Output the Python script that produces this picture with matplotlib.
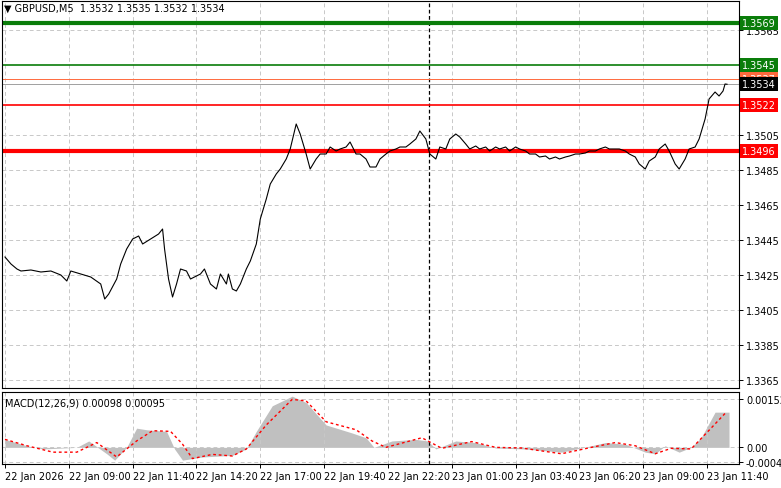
import matplotlib
matplotlib.use("Agg")
import matplotlib.pyplot as plt
import numpy as np

W, H = 781, 489

# price trace: bar index (5-min bars from 22 Jan 06:20) and close
bar_x = [0, 3, 6, 8, 13, 18, 23, 28, 31, 33, 38, 43, 48, 50, 52, 56, 58, 61, 64, 67, 69, 73, 77, 79, 80, 82, 84,
         86, 88, 91, 93, 98, 100, 103, 106, 108, 111, 112, 114, 116, 118, 121, 123, 126, 128, 131, 133, 136, 138, 141,
         143, 146, 148, 151, 153, 156, 158, 161, 163, 166, 168, 171, 173, 176, 178, 181, 183, 186, 188, 191, 193, 196,
         198, 201, 203, 206, 208, 211, 213, 216, 218, 221, 223, 226, 228, 231, 233, 236, 238, 241, 243, 246, 248, 251,
         253, 256, 258, 261, 263, 266, 268, 271, 273, 276, 278, 281, 283, 286, 288, 291, 293, 296, 298, 301, 303, 306,
         308, 311, 313, 316, 318, 321, 323, 326, 328, 331, 333, 336, 338, 341, 343, 346, 348, 351, 353, 356, 358, 360,
         361, 362]
bar_y = [258, 265, 270, 272, 271, 273, 272, 276, 282, 272, 275, 278, 285, 300, 295, 280, 265, 250, 240, 237, 245, 240,
         235, 230, 250, 280, 298, 285, 270, 272, 280, 275, 270, 285, 290, 275, 285, 275, 290, 292, 285, 270, 262, 245,
         220, 200, 185, 175, 170, 160, 150, 125, 135, 155, 170, 160, 155, 155, 148, 152, 150, 148, 143, 155, 155, 160,
         168, 168, 160, 155, 152, 150, 148, 148, 145, 140, 132, 140, 155, 160, 148, 150, 140, 135, 138, 145, 150, 147,
         150, 148, 152, 148, 150, 148, 152, 148, 150, 152, 155, 155, 158, 157, 160, 158, 160, 158, 157, 155, 155, 154,
         152, 152, 150, 148, 150, 150, 150, 152, 155, 158, 165, 170, 162, 158, 150, 145, 152, 165, 170, 160, 150, 148,
         140, 120, 100, 93, 97, 92, 85, 85]
close = [1.3565 - (y - 31) / 17500 for y in bar_y]
close[-1] = 1.3534

# MACD trace (main histogram and signal), read at bar indices
macd_x = [0, 11, 19, 36, 42, 51, 55, 61, 66, 71, 81, 85, 89, 99, 114, 121, 126, 134, 144, 151, 161, 174, 181, 185,
          194, 206, 212, 216, 226, 236, 246, 261, 279, 294, 301, 311, 321, 326, 331, 338, 344, 349, 356, 363]
macd_v = [0.00025, 0.00005, -0.00005, 0.0, 0.0002, -0.0002, -0.0004, 0.0, 0.0006, 0.00055, 0.0005, -0.00005, -0.0004,
          -0.0003, -0.00025, -0.00005, 0.0005, 0.0013, 0.0016, 0.0014, 0.0007, 0.00045, 0.0003, 0.0, 0.0002, 0.00025,
          0.0002, -0.00005, 0.0002, 0.00015, -0.00002, -0.00005, -0.00015, 0.00005, 0.00015, 0.0001, -0.00015,
          -0.0002, 0.00005, -0.00015, 0.0, 0.0003, 0.0011, 0.0011]
sig_x = [0, 11, 24, 36, 46, 56, 66, 74, 83, 89, 94, 104, 114, 121, 131, 144, 151, 161, 176, 184, 191, 209, 219, 234,
         246, 259, 279, 294, 306, 316, 326, 334, 344, 354, 361]
sig_v = [0.00025, 0.00005, -0.00015, -0.00015, 0.00015, -0.0003, 0.0002, 0.00052, 0.0005, 0.0001, -0.00035, -0.00022,
         -0.00027, -0.00005, 0.0007, 0.0015, 0.00145, 0.0008, 0.00055, 0.0002, 0.0, 0.0003, -0.00003, 0.00018, 0.0,
         -0.00002, -0.0002, 0.0, 0.00015, 0.00005, -0.0002, -0.00003, -0.00005, 0.0006, 0.00106]

levels = [1.3569, 1.3545, 1.3522, 1.3496]
level_colors = ["#0a7d0a", "#0a7d0a", "#ff0000", "#ff0000"]
level_widths = [3.0, 1.2, 1.2, 3.0]
tick_prices = [1.3565, 1.3505, 1.3485, 1.3465, 1.3445, 1.3425, 1.3405, 1.3385, 1.3365]
time_labels = ["22 Jan 2026", "22 Jan 09:00", "22 Jan 11:40", "22 Jan 14:20", "22 Jan 17:00", "22 Jan 19:40",
               "22 Jan 22:20", "23 Jan 01:00", "23 Jan 03:40", "23 Jan 06:20", "23 Jan 09:00", "23 Jan 11:40"]

fig = plt.figure(figsize=(W / 100, H / 100), dpi=100)
plt.rcParams["font.size"] = 7
l, r = 2 / W, 739 / W
ax = fig.add_axes([l, 1 - 389 / H, r - l, 387 / H])
mx = fig.add_axes([l, 1 - 465 / H, r - l, 72 / H])

xmin, xmax = -1.5, 368
ytop = 1.3565 + 29 / 17500
ybot = 1.3565 - 358 / 17500
ax.set_xlim(xmin, xmax)
ax.set_ylim(ybot, ytop)
tick_bars = np.arange(len(time_labels)) * 32
for a in (ax, mx):
    a.set_xticks(tick_bars)
    a.grid(True, color="#c8c8c8", ls=(0, (4, 3)), lw=0.7)
    a.tick_params(direction="out", length=3, width=0.7, pad=2)
    for s in a.spines.values():
        s.set_linewidth(0.8)
    a.yaxis.tick_right()
    a.axvline(212.5, color="black", ls=(0, (3, 2)), lw=0.9)

ax.set_yticks(tick_prices)
ax.set_yticklabels([f"{p:.4f}" for p in tick_prices])
ax.set_xticklabels([])
ax.tick_params(axis="x", length=0)

for lv, c, lw in zip(levels, level_colors, level_widths):
    ax.axhline(lv, color=c, lw=lw)
ax.axhline(1.3537, color="#ff6a3d", lw=0.7)
ax.axhline(1.3534, color="#a0a0a0", lw=0.7)
ax.plot(bar_x, close, color="black", lw=0.8)

def tag(y, txt, bg):
    ax.text(1.004, y, txt, transform=ax.get_yaxis_transform(), color="white", fontsize=7,
            va="center", ha="left", bbox=dict(boxstyle="square,pad=0.2", fc=bg, ec="none"), clip_on=False)

tag(1.3537, "1.3537", "#ff6a3d")
tag(1.3534, "1.3534", "black")
for lv, c in zip(levels, level_colors):
    tag(lv, f"{lv:.4f}", c)

ax.text(0.003, 0.995, "\u25bc GBPUSD,M5  1.3532 1.3535 1.3532 1.3534", transform=ax.transAxes,
        va="top", ha="left", fontsize=7)

mx.set_xlim(xmin, xmax)
mx.set_ylim(-0.00052, 0.00173)
mx.fill_between(macd_x, macd_v, 0, color="#c0c0c0", lw=0)
mx.plot(sig_x, sig_v, color="red", ls=(0, (2, 2)), lw=1.0)
mx.set_yticks([0.00152, 0.0, -0.00047])
mx.set_yticklabels(["0.00152", "0.00", "-0.00047"])
mx.set_xticklabels(time_labels, ha="left")
mx.text(0.004, 0.93, "MACD(12,26,9) 0.00098 0.00095", transform=mx.transAxes, va="top", ha="left", fontsize=7)

fig.savefig("out.png", dpi=100)
